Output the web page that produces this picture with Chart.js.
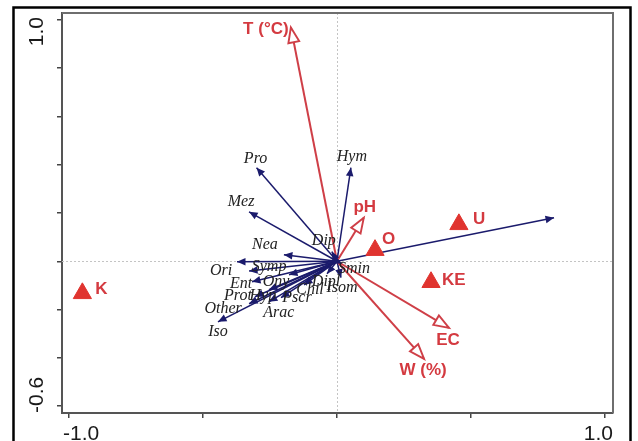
<!DOCTYPE html>
<html>
<head>
<meta charset="utf-8">
<script src="https://cdn.jsdelivr.net/npm/chart.js@4.4.1/dist/chart.umd.min.js"></script>
<style>
  html, body { margin: 0; padding: 0; background: #fff; }
  #wrap { width: 638px; height: 441px; }
</style>
</head>
<body>
<div id="wrap"><canvas id="biplot" width="638" height="441"></canvas></div>
<script>
// species scores (axis 1 / axis 2)
const speciesNames = ['Pro', 'Mez', 'Hym', 'Dip', 'Nea', 'Ori', 'Symp', 'Ent', 'Ony', 'Prot',
  'Hyp', 'Other', 'Iso', 'Arac', 'Pscr', 'Chil', 'Dipl', 'Isom', 'Smin', ''];
const speciesAx1 = [-0.30, -0.328, 0.052, -0.019, -0.198, -0.373, -0.328, -0.317, -0.179, -0.306,
  -0.254, -0.328, -0.444, -0.254, -0.209, -0.123, -0.037, 0.015, 0.019, 0.81];
const speciesAx2 = [0.388, 0.205, 0.388, 0.04, 0.027, -0.002, -0.04, -0.085, -0.056, -0.147,
  -0.118, -0.176, -0.251, -0.168, -0.151, -0.098, -0.052, -0.068, -0.01, 0.18];

// environmental variables
const envNames = ['T (°C)', 'pH', 'EC', 'W (%)'];
const envAx1 = [-0.172, 0.10, 0.418, 0.325];
const envAx2 = [0.969, 0.18, -0.276, -0.405];

// sites
const siteNames = ['U', 'O', 'KE', 'K'];
const siteAx1 = [0.455, 0.142, 0.351, -0.95];
const siteAx2 = [0.153, 0.046, -0.087, -0.133];

// axes
const xTicks = [-1, -0.5, 0, 0.5, 1];
const yTicks = [-0.6, -0.4, -0.2, 0, 0.2, 0.4, 0.6, 0.8, 1.0];
const xTickLabels = { '-1': '-1.0', '1': '1.0' };
const yTickLabels = { '-0.6': '-0.6', '1': '1.0' };

// label placement (pixel offsets of the label centre from the arrow tip / point)
const speciesLabelOffset = {
  Pro: [-1, -9], Mez: [-8, -10], Hym: [1, -11], Dip: [-8, -11], Nea: [-19, -10],
  Ori: [-16, 9], Symp: [20, -4], Ent: [-11, 2], Ony: [-13, 7], Prot: [-17, -1],
  Hyp: [-6, 6], Other: [-26, 5], Iso: [0, 10], Arac: [10, 11], Pscr: [16, 0],
  Chil: [6, 5], Dipl: [-1, 8], Isom: [1, 10], Smin: [12, 5]
};
const envLabelOffset = { 'T (°C)': [-25, 2], pH: [1, -11], EC: [-1, 12], 'W (%)': [-1, 11] };
const siteLabelOffset = { U: [14, -5], O: [7, -11], KE: [11, -1.5], K: [13, -4] };

const NAVY = '#1b1b6c';
const RED = '#cf3f47';
const SITE_RED = '#e0342f';
const LABEL_RED = '#d43a40';

const datasets = [];
speciesNames.forEach((name, i) => {
  datasets.push({
    label: name, kind: 'species',
    data: [{ x: 0, y: 0 }, { x: speciesAx1[i], y: speciesAx2[i] }],
    showLine: true, borderColor: NAVY, borderWidth: 1.5, pointRadius: 0, order: 2
  });
});
envNames.forEach((name, i) => {
  datasets.push({
    label: name, kind: 'env',
    data: [{ x: 0, y: 0 }, { x: envAx1[i], y: envAx2[i] }],
    showLine: true, borderColor: RED, borderWidth: 2, pointRadius: 0, order: 1
  });
});
datasets.push({
  label: 'sites', kind: 'site',
  data: siteAx1.map((x, i) => ({ x: x, y: siteAx2[i] })),
  showLine: false, pointStyle: 'triangle', pointRadius: 10.5,
  backgroundColor: SITE_RED, borderColor: SITE_RED, borderWidth: 1, order: 0
});

function drawHead(ctx, x, y, ang, kind) {
  const len = kind === 'env' ? 15 : 8.5;
  const half = kind === 'env' ? 5.5 : 3.8;
  ctx.save();
  ctx.translate(x, y);
  ctx.rotate(ang);
  ctx.beginPath();
  ctx.moveTo(0, 0);
  ctx.lineTo(-len, -half);
  ctx.lineTo(-len, half);
  ctx.closePath();
  if (kind === 'env') {
    ctx.fillStyle = '#fff';
    ctx.fill();
    ctx.strokeStyle = RED;
    ctx.lineWidth = 1.9;
    ctx.stroke();
  } else {
    ctx.fillStyle = NAVY;
    ctx.fill();
  }
  ctx.restore();
}

const biplotPlugin = {
  id: 'biplot',
  beforeDatasetsDraw(chart) {
    const { ctx, chartArea: a, scales: { x, y } } = chart;
    const x0 = Math.round(x.getPixelForValue(0)) + 0.5;
    const y0 = Math.round(y.getPixelForValue(0)) + 0.5;
    ctx.save();
    ctx.strokeStyle = '#c4c4c4';
    ctx.lineWidth = 1;
    ctx.setLineDash([2, 2]);
    ctx.beginPath();
    ctx.moveTo(x0, a.top); ctx.lineTo(x0, a.bottom);
    ctx.moveTo(a.left, y0); ctx.lineTo(a.right, y0);
    ctx.stroke();
    ctx.restore();
  },
  afterDatasetsDraw(chart) {
    const ctx = chart.ctx;
    // arrowheads first
    chart.data.datasets.forEach((ds, i) => {
      if (ds.kind !== 'species' && ds.kind !== 'env') return;
      const pts = chart.getDatasetMeta(i).data;
      const ang = Math.atan2(pts[1].y - pts[0].y, pts[1].x - pts[0].x);
      drawHead(ctx, pts[1].x, pts[1].y, ang, ds.kind);
    });
    // then the labels
    ctx.save();
    ctx.textAlign = 'center';
    ctx.textBaseline = 'middle';
    chart.data.datasets.forEach((ds, i) => {
      const pts = chart.getDatasetMeta(i).data;
      if (ds.kind === 'species' && ds.label) {
        const off = speciesLabelOffset[ds.label] || [0, -8];
        ctx.font = 'italic 16px "Liberation Serif", "Times New Roman", serif';
        ctx.fillStyle = '#222';
        ctx.fillText(ds.label, pts[1].x + off[0], pts[1].y + off[1]);
      } else if (ds.kind === 'env') {
        const off = envLabelOffset[ds.label] || [0, -10];
        ctx.font = 'bold 17px "Liberation Sans", Arial, sans-serif';
        ctx.fillStyle = LABEL_RED;
        ctx.fillText(ds.label, pts[1].x + off[0], pts[1].y + off[1]);
      } else if (ds.kind === 'site') {
        ctx.font = 'bold 17px "Liberation Sans", Arial, sans-serif';
        ctx.fillStyle = LABEL_RED;
        ctx.textAlign = 'left';
        pts.forEach((p, j) => {
          const off = siteLabelOffset[siteNames[j]];
          ctx.fillText(siteNames[j], p.x + off[0], p.y + off[1]);
        });
        ctx.textAlign = 'center';
      }
    });
    ctx.restore();
  },
  afterDraw(chart) {
    const { ctx, chartArea: a, scales: { x, y } } = chart;
    ctx.save();
    // top and right edges of the plot box
    ctx.strokeStyle = '#6e6e6e';
    ctx.lineWidth = 2;
    ctx.beginPath();
    ctx.moveTo(a.left, a.top);
    ctx.lineTo(a.right, a.top);
    ctx.lineTo(a.right, a.bottom);
    ctx.stroke();
    // outer black frame
    ctx.strokeStyle = '#000';
    ctx.lineWidth = 2.5;
    ctx.strokeRect(13.5, 7.5, 617, 480);

    // axis end labels
    ctx.font = '21px "Liberation Sans", Arial, sans-serif';
    ctx.fillStyle = '#1a1a1a';
    ctx.textBaseline = 'alphabetic';
    Object.keys(xTickLabels).forEach(k => {
      const v = Number(k);
      const px = x.getPixelForValue(v);
      ctx.textAlign = v < 0 ? 'left' : 'right';
      ctx.fillText(xTickLabels[k], v < 0 ? px - 6 : px + 8, 440);
    });
    Object.keys(yTickLabels).forEach(k => {
      const v = Number(k);
      const py = y.getPixelForValue(v);
      ctx.save();
      ctx.translate(43, v > 0 ? py - 3 : py + 7);
      ctx.rotate(-Math.PI / 2);
      ctx.textAlign = v > 0 ? 'right' : 'left';
      ctx.fillText(yTickLabels[k], 0, 0);
      ctx.restore();
    });
    ctx.restore();
  }
};

new Chart(document.getElementById('biplot'), {
  type: 'scatter',
  data: { datasets: datasets },
  options: {
    responsive: false,
    animation: false,
    devicePixelRatio: 1,
    layout: { padding: { top: 13, right: 25, left: 0, bottom: 0 } },
    plugins: { legend: { display: false }, tooltip: { enabled: false } },
    scales: {
      x: {
        type: 'linear', min: -1.026, max: 1.03,
        afterBuildTicks: s => { s.ticks = xTicks.map(v => ({ value: v })); },
        afterFit: s => { s.height = 28; },
        ticks: { display: false },
        grid: { drawOnChartArea: false, drawTicks: true, tickLength: 5, color: '#444', lineWidth: 1.5 },
        border: { display: true, color: '#555', width: 2 }
      },
      y: {
        type: 'linear', min: -0.629, max: 1.029,
        afterBuildTicks: s => { s.ticks = yTicks.map(v => ({ value: v })); },
        afterFit: s => { s.width = 62; },
        ticks: { display: false },
        grid: { drawOnChartArea: false, drawTicks: true, tickLength: 5, color: '#444', lineWidth: 1.5 },
        border: { display: true, color: '#555', width: 2 }
      }
    }
  },
  plugins: [biplotPlugin]
});
</script>
</body>
</html>
